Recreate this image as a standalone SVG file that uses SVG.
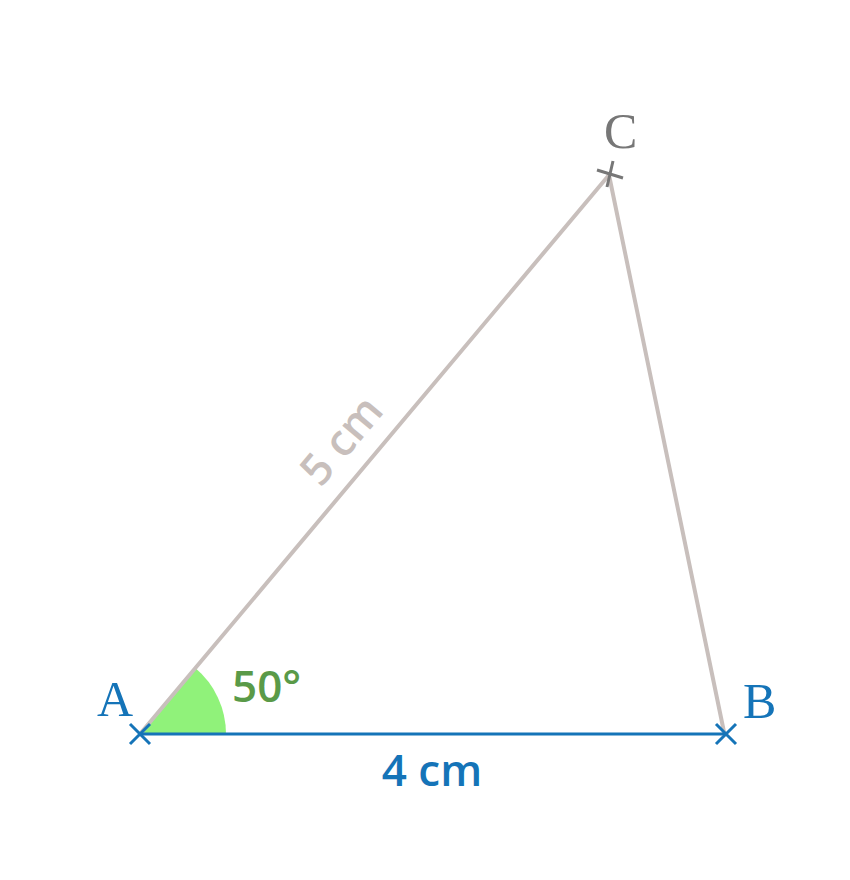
<svg xmlns="http://www.w3.org/2000/svg" width="850" height="880" viewBox="0 0 850 880">
<style>
.side{stroke:#c8bfbc;stroke-width:4;fill:none;stroke-linecap:round}
.base{stroke:#1574b8;stroke-width:3;fill:none}
.xb{stroke:#1574b8;stroke-width:3;fill:none}
.xc{stroke:#777777;stroke-width:3;fill:none}
.pt{font-family:"Liberation Serif","Times New Roman",serif;font-size:50px}
.lbl{font-family:"Open Sans","Noto Sans",sans-serif;font-size:44px;font-weight:600}
</style>
<rect width="850" height="880" fill="#ffffff"/>
<g id="angle">
<path d="M140,734 L226,734 A86,86 0 0 0 195.3,668.1 Z" fill="#90f27a"/>
<text class="lbl" x="232" y="702" fill="#5a9a48" font-size="46">50°</text>
</g>
<g id="connectors">
<line class="side" x1="140" y1="734" x2="609" y2="175"/>
<line class="side" x1="609" y1="175" x2="724" y2="732"/>
<line class="base" x1="140" y1="734" x2="726" y2="734"/>
<text class="lbl" x="432" y="786" text-anchor="middle" fill="#1574b8">4 cm</text>
<text class="lbl" transform="translate(353,450) rotate(-50)" text-anchor="middle" fill="#c8bfbc" font-size="42">5 cm</text>
</g>
<g id="A">
<path class="xb" d="M130,724 L150,744 M150,724 L130,744"/>
<text class="pt" x="97" y="716" fill="#1574b8">A</text>
</g>
<g id="B">
<path class="xb" d="M716,724 L736,744 M736,724 L716,744"/>
<text class="pt" x="743" y="718" fill="#1574b8">B</text>
</g>
<g id="C">
<path class="xc" d="M597,170 L623,178 M613,161 L607,187"/>
<text class="pt" x="604" y="148" fill="#777777">C</text>
</g>
</svg>
